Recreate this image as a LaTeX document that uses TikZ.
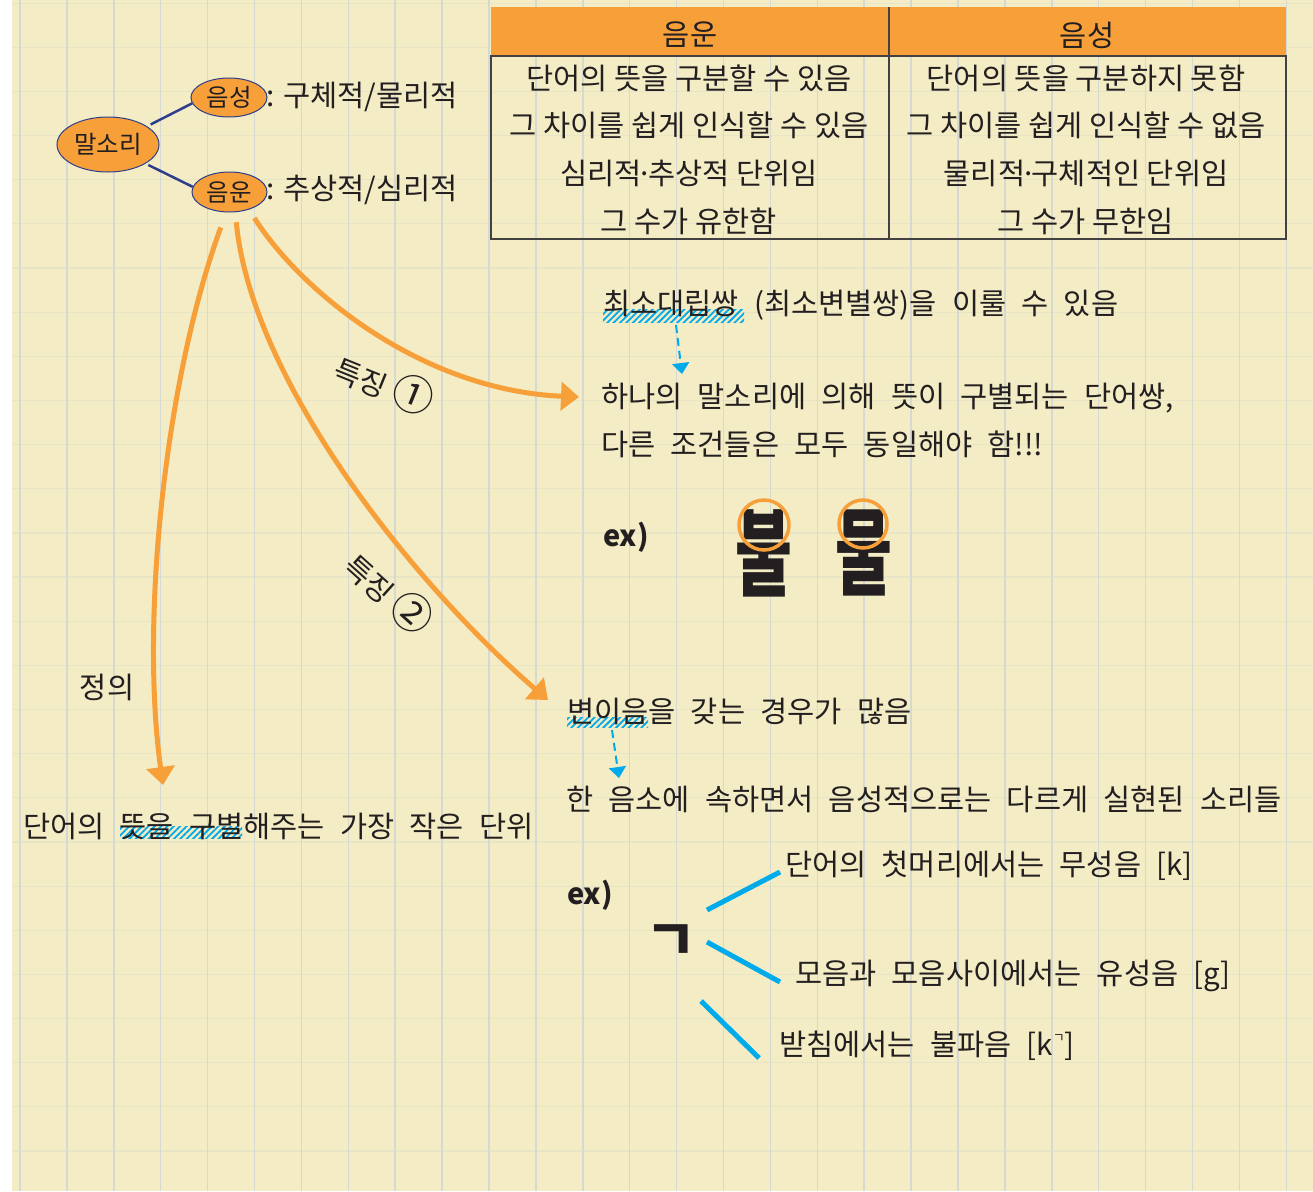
\documentclass[tikz,border=0pt]{standalone}
\usepackage{fontspec}
\usepackage{graphicx}
\setmainfont[WordSpace=2.3]{Noto Sans CJK KR}
\newfontfamily\plainkr{Noto Sans CJK KR}
\usetikzlibrary{arrows.meta,patterns.meta,shapes.geometric}

\definecolor{paper}{RGB}{243,236,196}
\definecolor{gridv}{RGB}{212,218,210}
\definecolor{gridh}{RGB}{232,228,198}
\definecolor{marker}{RGB}{247,160,58}
\definecolor{ink}{RGB}{35,31,32}
\definecolor{navy}{RGB}{44,62,140}
\definecolor{sky}{RGB}{0,170,235}

\newcommand{\txt}{\fontsize{29.5}{36}\selectfont}
\newcommand{\tabtxt}{\plainkr\fontsize{29.5}{36}\selectfont}
\newcommand{\bubtxt}{\plainkr\fontsize{24.5}{30}\selectfont}
\newcommand{\extxt}{\fontsize{29}{34}\selectfont\bfseries}
\newcommand{\bigtxt}{\fontsize{95}{100}\selectfont\bfseries}
\newcommand{\jamotxt}{\fontsize{56}{60}\selectfont\bfseries}
\newcommand{\circnum}[1]{\scalebox{1.4}{#1}}

\tikzset{
  bubble/.style={ellipse, fill=marker, draw=navy, line width=1pt, inner sep=0pt, font=\bubtxt, text=ink},
  say/.style={anchor=west, inner sep=0pt, font=\txt, text=ink},
  feature/.style={draw=marker, line width=5pt, -{Triangle[length=18pt,width=28pt]}},
  pointer/.style={draw=sky, line width=2pt, dash pattern=on 8pt off 5pt, -{Triangle[length=11pt,width=17pt]}},
  branch/.style={draw=sky, line width=5pt},
  hatch/.style={pattern={Lines[angle=45,distance=4.5pt,line width=1.8pt]}, pattern color=sky},
}

\begin{document}
\begin{tikzpicture}[x=1pt,y=-1pt]
  \useasboundingbox (0,0) rectangle (1313,1191);

  % paper
  \fill[white] (0,0) rectangle (1313,1191);
  \fill[paper] (12,0) rectangle (1313,1191);
  \foreach \k in {0,...,26}
    \draw[gridh, line width=1.2pt] (12,3.1+44.15*\k) -- (1313,3.1+44.15*\k);
  \foreach \k in {0,...,27}
    \draw[gridv, line width=1.5pt] (20+46.9*\k,0) -- (20+46.9*\k,1191);

  % table
  \fill[marker] (491,7) rectangle (1286,56);
  \draw[ink!85, line width=1.8pt] (491,56) rectangle (1286,239);
  \draw[ink!85, line width=1.8pt] (889,7) -- (889,239);

  \begin{scope}[every node/.style={font=\tabtxt, text=ink, inner sep=0pt}]
    \node (phonemeh) at (690,35) {음운};
    \node (phoneh)   at (1087,35) {음성};
    \node (pm1) at (689,78)  {단어의 뜻을 구분할 수 있음};
    \node (pm2) at (689,125) {그 차이를 쉽게 인식할 수 있음};
    \node (pm3) at (689,173) {심리적{\kern-5pt}·{\kern-5pt}추상적 단위임};
    \node (pm4) at (689,221) {그 수가 유한함};
    \node (pn1) at (1086,78)  {단어의 뜻을 구분하지 못함};
    \node (pn2) at (1086,125) {그 차이를 쉽게 인식할 수 없음};
    \node (pn3) at (1086,173) {물리적{\kern-5pt}·{\kern-5pt}구체적인 단위임};
    \node (pn4) at (1086,221) {그 수가 무한임};
  \end{scope}

  % mind map
  \node[bubble, minimum width=102pt, minimum height=55pt] (sori) at (108,144.5) {말소리};
  \node[bubble, minimum width=76pt, minimum height=39pt] (eumseong) at (229,97.5) {음성};
  \node[bubble, minimum width=75pt, minimum height=40pt] (eumun) at (229.5,192) {음운};
  \node[say, font=\tabtxt] (eumseongdesc) at (266,97) {: 구체적/물리적};
  \node[say, font=\tabtxt] (eumundesc) at (266,190) {: 추상적/심리적};

  \draw[navy, line width=2.5pt, shorten <=4pt] (sori.25) -- (eumseong.189);
  \draw[navy, line width=2.5pt, shorten <=3pt] (sori.-27) -- (eumun.172);

  % hatches
  \fill[hatch] (603,309) rectangle (744,322);
  \fill[hatch] (567,717) rectangle (648,727);
  \fill[hatch] (120,826) rectangle (242,838);

  % orange arrows
  \coordinate (tip1) at (579,397);
  \coordinate (tip2) at (548,700);
  \coordinate (tip3) at (163,785);
  \draw[feature, shorten <=10pt] (eumun.-42) .. controls (300,290) and (420,390) .. (tip1);
  \draw[feature, shorten <=10pt] (eumun.-74) .. controls (252,385) and (420,590) .. (tip2);
  \draw[feature, shorten <=16pt] (eumun.-99) .. controls (165,380) and (140,620) .. (tip3);

  \begin{scope}[every node/.style={font=\tabtxt, text=ink, inner sep=0pt}]
    \node[rotate=-22] (feat1) at (385,383) {특징 \circnum{①}};
    \node[rotate=-42] (feat2) at (390,592) {특징 \circnum{②}};
    \node (jeongui) at (107,687) {정의};
  \end{scope}

  % minimal pair
  \node[say] (minpair) at (603,305) {최소대립쌍 (최소변별쌍)을 이룰 수 있음};
  \node[say] (def1a) at (601,398) {하나의 말소리에 의해 뜻이 구별되는 단어쌍,};
  \node[say] (def1b) at (601,444) {다른 조건들은 모두 동일해야 함!!!};
  \node[say, font=\extxt] (ex1) at (603,537) {ex)};
  \node[font=\bigtxt, text=ink, inner sep=0pt] (bul) at (764,553) {\scalebox{0.65}[1]{불}};
  \node[font=\bigtxt, text=ink, inner sep=0pt] (mul) at (864,553) {\scalebox{0.65}[1]{물}};
  \draw[marker, line width=3.5pt] (764,525) circle (25);
  \draw[marker, line width=3.5pt] (863,524) circle (24);

  \coordinate (m1) at (676,325);
  \coordinate (m1e) at (682,374);
  \draw[pointer] (m1) -- (m1e);

  % allophone
  \node[say] (allo) at (567,711) {변이음을 갖는 경우가 많음};
  \node[say] (def2) at (566,799) {한 음소에 속하면서 음성적으로는 다르게 실현된 소리들};
  \node[say, font=\extxt] (ex2) at (567,895) {ex)};
  \node[font=\jamotxt, text=ink, inner sep=0pt] (giyeok) at (671,943) {ㄱ};
  \node[say] (k1) at (785,866) {단어의 첫머리에서는 무성음 [k]};
  \node[say] (k2) at (795,976) {모음과 모음사이에서는 유성음 [g]};
  \node[say] (k3) at (779,1046) {받침에서는 불파음 [k\raisebox{.45em}{\fontsize{13}{13}\selectfont ㄱ}]};

  \coordinate (m2) at (612,730);
  \coordinate (m2e) at (619,778);
  \draw[pointer] (m2) -- (m2e);

  \coordinate (g1a) at (707,910);
  \coordinate (g1b) at (780,872);
  \coordinate (g2a) at (707,942);
  \coordinate (g2b) at (780,982);
  \coordinate (g3a) at (701,1001);
  \coordinate (g3b) at (759,1058);
  \draw[branch] (g1a) -- (g1b);
  \draw[branch] (g2a) -- (g2b);
  \draw[branch] (g3a) -- (g3b);

  % definition
  \node[say] (def0) at (23,826) {단어의 뜻을 구별해주는 가장 작은 단위};

\end{tikzpicture}
\end{document}
